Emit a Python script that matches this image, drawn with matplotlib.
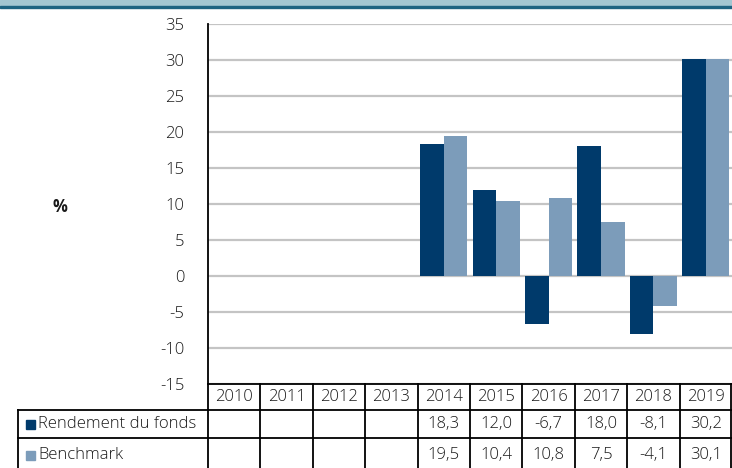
import matplotlib
matplotlib.use("Agg")
import matplotlib.pyplot as plt
import numpy as np

years = ["2010", "2011", "2012", "2013", "2014", "2015", "2016", "2017", "2018", "2019"]
fund = [None, None, None, None, 18.3, 12.0, -6.7, 18.0, -8.1, 30.2]
bench = [None, None, None, None, 19.5, 10.4, 10.8, 7.5, -4.1, 30.1]
series_names = ["Rendement du fonds", "Benchmark"]
yticks = [-15, -10, -5, 0, 5, 10, 15, 20, 25, 30, 35]

c_fund = "#003a6b"
c_bench = "#7c9cba"
FONT = "Open Sans"
plt.rcParams["font.family"] = [FONT, "DejaVu Sans"]
FS = 12
TXT = "#1a1a1a"

W, H = 732, 468
fig = plt.figure(figsize=(W / 100, H / 100), dpi=100)

# top band
fig.patches.append(plt.Rectangle((0, 1 - 6 / H), 1, 6 / H, transform=fig.transFigure,
                                 color="#a3c6d1", zorder=0))
fig.patches.append(plt.Rectangle((0, 1 - 7.5 / H), 1, 2 / H, transform=fig.transFigure,
                                 color="#1d6381", zorder=1))

x0, x1 = 208, 732
y_top, y_bot = 24, 384
ax = fig.add_axes([x0 / W, 1 - y_bot / H, (x1 - x0) / W, (y_bot - y_top) / H])
n = len(years)
x = np.arange(n)
bw = 0.45
fv = [np.nan if v is None else v for v in fund]
bv = [np.nan if v is None else v for v in bench]
ax.bar(x - bw / 2, fv, bw, color=c_fund, zorder=3)
ax.bar(x + bw / 2, bv, bw, color=c_bench, zorder=3)
ax.set_xlim(-0.5, n - 0.5)
ax.set_ylim(-15, 35)
ax.set_yticks(yticks)
ax.set_yticklabels([str(t) for t in yticks], fontsize=FS, color=TXT, fontweight="light")
ax.yaxis.grid(True, color="#c4c4c4", linewidth=1.6, zorder=0)
ax.set_axisbelow(True)
ax.set_xticks([])
for s in ["top", "right", "bottom"]:
    ax.spines[s].set_visible(False)
ax.spines["left"].set_linewidth(1.3)
ax.tick_params(axis="y", length=0, pad=17)
fig.text(60 / W, 1 - 207 / H, "%", fontsize=FS, fontweight="bold", ha="center", va="center", color=TXT)

# table
row_y = [384, 410, 438, 468]
col_w = (x1 - x0) / n
lw = 1.3
def hline(y, xa, xb):
    fig.add_artist(plt.Line2D([xa / W, xb / W], [1 - y / H, 1 - y / H], color="black", lw=lw,
                              transform=fig.transFigure))
def vline(x_, ya, yb):
    fig.add_artist(plt.Line2D([x_ / W, x_ / W], [1 - ya / H, 1 - yb / H], color="black", lw=lw,
                              transform=fig.transFigure))

hline(row_y[0], x0, x1)
hline(row_y[1], 18, x1)
hline(row_y[2], 18, x1)
vline(18, row_y[1], H)
for i in range(n + 1):
    xc = x0 + i * col_w
    if i == n:
        xc = x1 - 1
    vline(xc, row_y[0], H)

def fmt(v):
    return "" if v is None else f"{v:.1f}".replace(".", ",")

ys = [(row_y[0] + row_y[1]) / 2, (row_y[1] + row_y[2]) / 2, 455]
for i, yr in enumerate(years):
    cx = x0 + (i + 0.5) * col_w
    fig.text(cx / W, 1 - ys[0] / H, yr, ha="center", va="center", fontsize=FS, color=TXT, fontweight="light")
    fig.text(cx / W, 1 - ys[1] / H, fmt(fund[i]), ha="center", va="center", fontsize=FS, color=TXT, fontweight="light")
    fig.text(cx / W, 1 - ys[2] / H, fmt(bench[i]), ha="center", va="center", fontsize=FS, color=TXT, fontweight="light")

for k, (name, col) in enumerate(zip(series_names, [c_fund, c_bench])):
    yc = ys[1 + k]
    fig.patches.append(plt.Rectangle((26 / W, 1 - (yc + 5) / H), 9 / W, 9 / H,
                                     transform=fig.transFigure, color=col))
    fig.text(38 / W, 1 - yc / H, name, ha="left", va="center", fontsize=FS, color=TXT, fontweight="light")

fig.savefig("out.png", dpi=100)
